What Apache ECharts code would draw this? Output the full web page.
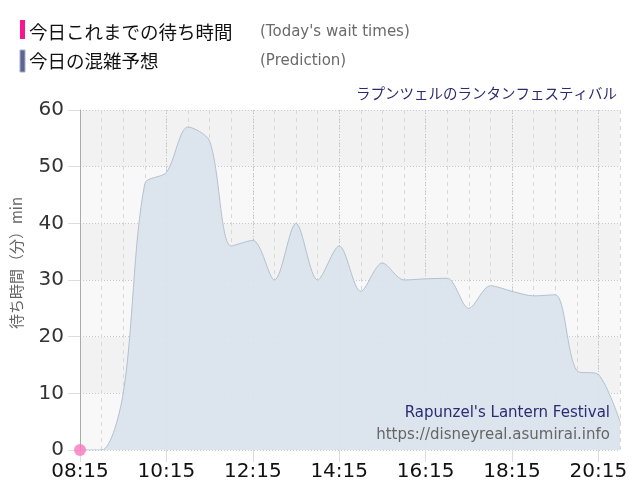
<!DOCTYPE html>
<html>
<head>
<meta charset="utf-8">
<script src="https://cdn.jsdelivr.net/npm/echarts@6/dist/echarts.min.js"></script>
<style>
  html, body { margin: 0; padding: 0; background: #fff; }
  #chart { width: 640px; height: 500px; }
</style>
</head>
<body>
<div id="chart"></div>
<script>
// 30分ごとの時刻
var times = ['08:15', '08:45', '09:15', '09:45', '10:15', '10:45', '11:15', '11:45',
    '12:15', '12:45', '13:15', '13:45', '14:15', '14:45', '15:15', '15:45',
    '16:15', '16:45', '17:15', '17:45', '18:15', '18:45', '19:15', '19:45',
    '20:15', '20:45'];
// 今日の混雑予想
var prediction = [0, 0, 10, 47, 49, 57, 54.5, 36, 37, 30, 40, 30, 36, 28, 33, 30,
    30.2, 30.3, 25, 29, 28, 27.2, 27.4, 14, 13.3, 5];
// 今日これまでの待ち時間
var actual = [0];

var myChart = echarts.init(document.getElementById('chart'));

myChart.setOption({
    backgroundColor: '#fff',
    animation: false,
    title: {
        text: 'ラプンツェルのランタンフェスティバル',
        right: 18,
        top: 81,
        textStyle: {
            fontFamily: 'Noto Sans CJK JP',
            fontSize: 14.5,
            fontWeight: 'normal',
            color: '#2b2b72'
        }
    },
    graphic: [
        {type: 'rect', shape: {x: 20, y: 20, width: 5, height: 19}, style: {fill: '#f7168f'}},
        {type: 'text', left: 29, top: 23, style: {text: '今日これまでの待ち時間', font: '18.5px "Noto Sans CJK JP"', fill: '#111'}},
        {type: 'text', left: 260, top: 25, style: {text: "(Today's wait times)", font: '15px "DejaVu Sans"', fill: '#6a6a6a'}},
        {type: 'rect', shape: {x: 20, y: 50, width: 5, height: 22}, style: {fill: '#5b6492', stroke: '#a8adc8', lineWidth: 1}},
        {type: 'text', left: 29, top: 52, style: {text: '今日の混雑予想', font: '18.5px "Noto Sans CJK JP"', fill: '#111'}},
        {type: 'text', left: 260, top: 54, style: {text: '(Prediction)', font: '15px "DejaVu Sans"', fill: '#6a6a6a'}},
        {type: 'text', right: 30, top: 406, z: 10, style: {text: "Rapunzel's Lantern Festival", font: '15px "DejaVu Sans"', fill: '#2b2b72', align: 'right'}},
        {type: 'text', right: 30, top: 428, z: 10, style: {text: 'https://disneyreal.asumirai.info', font: '15px "DejaVu Sans"', fill: '#666', align: 'right'}},
        // 縦軸の名前
        {type: 'text', x: 16, y: 263, rotation: Math.PI / 2,
            style: {text: '待ち時間（分）min', font: '15px "Noto Sans CJK JP"', fill: '#666', align: 'center', verticalAlign: 'middle'}}
    ],
    grid: {
        left: 80,
        right: 20,
        top: 110,
        bottom: 50
    },
    xAxis: [{
        type: 'category',
        boundaryGap: false,
        data: times,
        axisLine: {show: false},
        axisTick: {show: true, interval: 3, length: 12, lineStyle: {color: '#ddd'}},
        axisLabel: {
            interval: 3,
            fontFamily: 'DejaVu Sans',
            fontSize: 20,
            color: '#111',
            margin: 12
        },
        splitLine: {
            show: true,
            interval: 0,
            lineStyle: {color: '#d8d8d8', type: [4, 4]}
        }
    }, {
        // 2時間ごとの線
        type: 'category',
        position: 'top',
        boundaryGap: false,
        data: times,
        axisLine: {show: false},
        axisTick: {show: false},
        axisLabel: {show: false},
        splitLine: {
            show: true,
            interval: 3,
            lineStyle: {color: '#c4c4c4', type: [1, 2]}
        }
    }],
    yAxis: {
        type: 'value',
        min: 0,
        max: 60,
        interval: 10,
        axisLine: {show: true, lineStyle: {color: '#aaa'}},
        axisTick: {show: true, length: 12, lineStyle: {color: '#ddd'}},
        axisLabel: {
            fontFamily: 'DejaVu Sans',
            fontSize: 20,
            color: '#333',
            margin: 16
        },
        splitLine: {lineStyle: {color: '#c8c8c8', type: [1, 2]}},
        splitArea: {show: true, areaStyle: {color: ['#f8f8f8', '#f2f2f2']}}
    },
    series: [
        {
            name: '今日の混雑予想',
            type: 'line',
            data: prediction,
            smooth: 0.3,
            symbol: 'none',
            lineStyle: {color: '#b2c1ce', width: 1},
            areaStyle: {color: '#dae4ec', opacity: 0.95},
            z: 2
        },
        {
            name: '今日これまでの待ち時間',
            type: 'line',
            data: actual,
            symbol: 'circle',
            symbolSize: 12,
            itemStyle: {color: 'rgba(247,120,190,0.8)'},
            lineStyle: {color: '#f7168f', width: 2},
            z: 5
        }
    ]
});
</script>
</body>
</html>
